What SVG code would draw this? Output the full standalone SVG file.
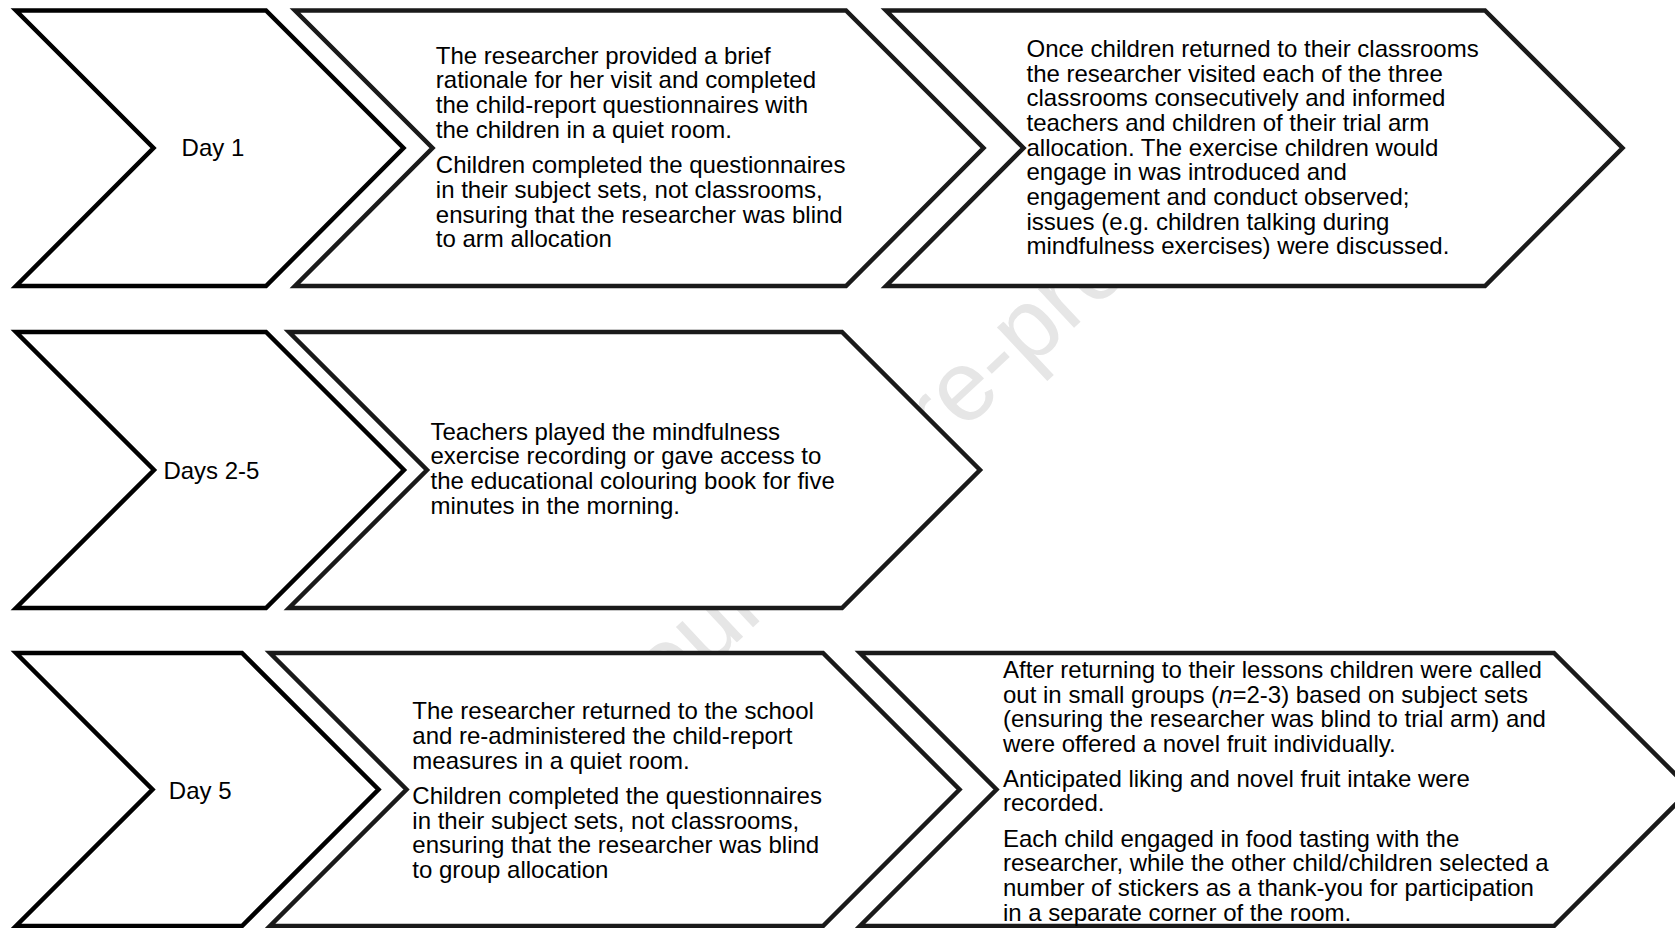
<svg xmlns="http://www.w3.org/2000/svg" width="1675" height="928" viewBox="0 0 1675 928">
<style>
.bg{fill:#fff}
.chev{fill:#fff;stroke:#000;stroke-width:4.5;stroke-linejoin:miter}
.chev2{fill:#fff;stroke:#1a1a1a;stroke-width:4.5;stroke-linejoin:miter}
.t{font-family:"Liberation Sans",Arial,sans-serif;font-size:24px;fill:#000}
.wm{font-family:"Liberation Sans",Arial,sans-serif;font-size:100px;fill:#e6e6e6}
</style>
<rect class="bg" x="0" y="0" width="1675" height="928"/>
<text class="wm" transform="translate(630,742) rotate(-43)">Journal Pre-proof</text>

<g id="connectors"></g>

<g id="day1">
<polygon class="chev" points="16,10.5 266,10.5 403.5,148 266,286 16,286 153.5,148"/>
<text class="t" x="181.6" y="156">Day 1</text>
</g>
<g id="day1-session">
<polygon class="chev2" points="295,10.5 846,10.5 983.5,148 846,286 295,286 432.5,148"/>
<text class="t">
<tspan x="435.8" y="63.5">The researcher provided a brief</tspan>
<tspan x="435.8" y="88.2">rationale for her visit and completed</tspan>
<tspan x="435.8" y="112.9">the child-report questionnaires with</tspan>
<tspan x="435.8" y="137.6">the children in a quiet room.</tspan>
<tspan x="435.8" y="173.3">Children completed the questionnaires</tspan>
<tspan x="435.8" y="198">in their subject sets, not classrooms,</tspan>
<tspan x="435.8" y="222.7">ensuring that the researcher was blind</tspan>
<tspan x="435.8" y="247.4">to arm allocation</tspan>
</text>
</g>
<g id="day1-classrooms">
<polygon class="chev2" points="886,10.5 1485,10.5 1622.5,148 1485,286 886,286 1023.5,148"/>
<text class="t">
<tspan x="1026.5" y="56.8">Once children returned to their classrooms</tspan>
<tspan x="1026.5" y="81.5">the researcher visited each of the three</tspan>
<tspan x="1026.5" y="106.2">classrooms consecutively and informed</tspan>
<tspan x="1026.5" y="130.9">teachers and children of their trial arm</tspan>
<tspan x="1026.5" y="155.6">allocation. The exercise children would</tspan>
<tspan x="1026.5" y="180.3">engage in was introduced and</tspan>
<tspan x="1026.5" y="205">engagement and conduct observed;</tspan>
<tspan x="1026.5" y="229.7">issues (e.g. children talking during</tspan>
<tspan x="1026.5" y="254.4">mindfulness exercises) were discussed.</tspan>
</text>
</g>

<g id="days2-5">
<polygon class="chev" points="16,332 266,332 404,470 266,608 16,608 154,470"/>
<text class="t" x="163.4" y="478.5">Days 2-5</text>
</g>
<g id="days2-5-exercise">
<polygon class="chev2" points="289,332 842,332 980,470 842,608 289,608 427,470"/>
<text class="t">
<tspan x="430.5" y="439.6">Teachers played the mindfulness</tspan>
<tspan x="430.5" y="464.3">exercise recording or gave access to</tspan>
<tspan x="430.5" y="489">the educational colouring book for five</tspan>
<tspan x="430.5" y="513.7">minutes in the morning.</tspan>
</text>
</g>

<g id="day5">
<polygon class="chev" points="16,653 242,653 378.5,789.5 242,926 16,926 152.5,789.5"/>
<text class="t" x="168.8" y="799">Day 5</text>
</g>
<g id="day5-session">
<polygon class="chev2" points="270,653 823,653 959.5,789.5 823,926 270,926 406.5,789.5"/>
<text class="t">
<tspan x="412.3" y="719.4">The researcher returned to the school</tspan>
<tspan x="412.3" y="744.1">and re-administered the child-report</tspan>
<tspan x="412.3" y="768.8">measures in a quiet room.</tspan>
<tspan x="412.3" y="803.8">Children completed the questionnaires</tspan>
<tspan x="412.3" y="828.5">in their subject sets, not classrooms,</tspan>
<tspan x="412.3" y="853.2">ensuring that the researcher was blind</tspan>
<tspan x="412.3" y="877.9">to group allocation</tspan>
</text>
</g>
<g id="day5-tasting">
<polygon class="chev2" points="860,653 1554,653 1690.5,789.5 1554,926 860,926 996.5,789.5"/>
<text class="t">
<tspan x="1003" y="677.8">After returning to their lessons children were called</tspan>
<tspan x="1003" y="702.5">out in small groups (<tspan font-style="italic">n</tspan>=2-3) based on subject sets</tspan>
<tspan x="1003" y="727.2">(ensuring the researcher was blind to trial arm) and</tspan>
<tspan x="1003" y="751.9">were offered a novel fruit individually.</tspan>
<tspan x="1003" y="786.7">Anticipated liking and novel fruit intake were</tspan>
<tspan x="1003" y="811.4">recorded.</tspan>
<tspan x="1003" y="846.5">Each child engaged in food tasting with the</tspan>
<tspan x="1003" y="871.2">researcher, while the other child/children selected a</tspan>
<tspan x="1003" y="895.9">number of stickers as a thank-you for participation</tspan>
<tspan x="1003" y="920.6">in a separate corner of the room.</tspan>
</text>
</g>
</svg>
